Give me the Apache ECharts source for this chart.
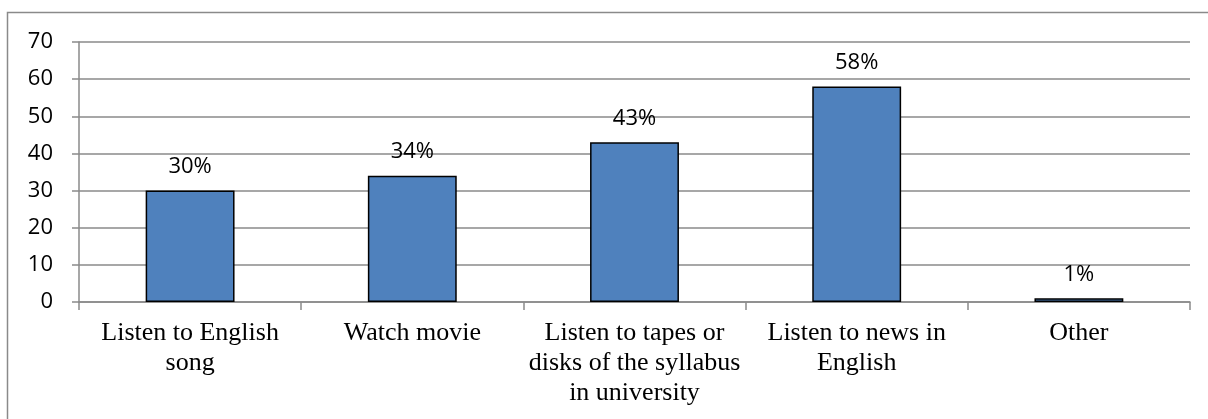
<!DOCTYPE html>
<html>
<head>
<meta charset="utf-8">
<script src="https://cdn.jsdelivr.net/npm/echarts@6/dist/echarts.min.js"></script>
<style>
  html, body { margin: 0; padding: 0; background: #fff; }
  #chart { width: 1208px; height: 419px; }
</style>
</head>
<body>
<div id="chart"></div>
<script>
// Activities used for practising English listening, share of respondents
const categories = [
  'Listen to English\nsong',
  'Watch movie',
  'Listen to tapes or\ndisks of the syllabus\nin university',
  'Listen to news in\nEnglish',
  'Other'
];
const values = [30, 34, 43, 58, 1];
const valueLabels = ['30%', '34%', '43%', '58%', '1%'];
const yTicks = [0, 10, 20, 30, 40, 50, 60, 70];

const chart = echarts.init(document.getElementById('chart'), null, { renderer: 'canvas' });

chart.setOption({
  animation: false,
  backgroundColor: '#ffffff',
  graphic: [{
    type: 'rect',
    shape: { x: 7.5, y: 12.5, width: 1220, height: 430 },
    style: { fill: 'none', stroke: '#8a8a8a', lineWidth: 1.5 },
    silent: true
  }],
  grid: { left: 79, right: 18, top: 42, bottom: 117 },
  xAxis: {
    type: 'category',
    data: categories,
    axisLine: { show: true, lineStyle: { color: '#8a8a8a', width: 1.5 } },
    axisTick: { show: true, length: 8, alignWithLabel: false, lineStyle: { color: '#8a8a8a', width: 1.5 } },
    axisLabel: {
      interval: 0,
      margin: 16,
      fontFamily: '"Liberation Serif", "Times New Roman", serif',
      fontSize: 26,
      lineHeight: 30,
      color: '#000'
    }
  },
  yAxis: {
    type: 'value',
    min: yTicks[0],
    max: yTicks[yTicks.length - 1],
    interval: 10,
    axisLine: { show: true, lineStyle: { color: '#8a8a8a', width: 1.5 } },
    axisTick: { show: true, length: 7, inside: false, lineStyle: { color: '#8a8a8a', width: 1.5 } },
    axisLabel: {
      margin: 26,
      fontFamily: '"Open Sans", sans-serif',
      fontSize: 22,
      color: '#000'
    },
    splitLine: { show: true, lineStyle: { color: '#8a8a8a', width: 1.5 } }
  },
  series: [{
    type: 'bar',
    data: values,
    barWidth: '40%',
    itemStyle: { color: '#4F81BD', borderColor: '#000', borderWidth: 1.5 },
    label: {
      show: true,
      position: 'top',
      distance: 13,
      fontFamily: '"Open Sans", sans-serif',
      fontSize: 22,
      color: '#000',
      formatter: p => valueLabels[p.dataIndex]
    }
  }]
});
</script>
</body>
</html>
